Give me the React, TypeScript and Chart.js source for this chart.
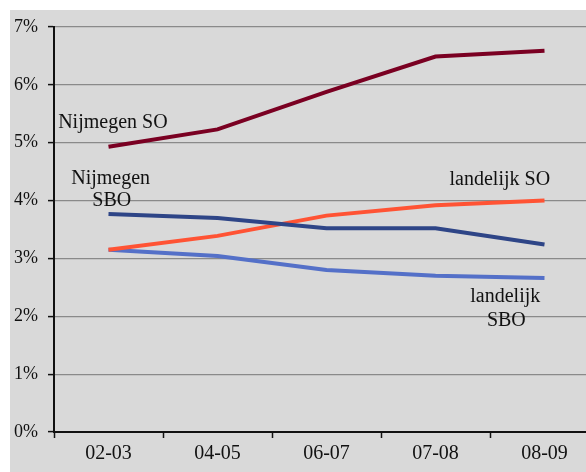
import React, { useEffect, useRef } from "react";
import { Chart, registerables } from "chart.js";

Chart.register(...registerables);

const categories = ["02-03", "04-05", "06-07", "07-08", "08-09"];
const nijmegenSO = [4.93, 5.23, 5.88, 6.49, 6.59];
const nijmegenSBO = [3.77, 3.70, 3.52, 3.52, 3.24];
const landelijkSO = [3.15, 3.39, 3.74, 3.92, 4.0];
const landelijkSBO = [3.15, 3.04, 2.8, 2.7, 2.66];
const yTicks = [0, 1, 2, 3, 4, 5, 6, 7];

// series labels, anchored in data coordinates (category index, value)
const seriesLabels = [
  { text: "Nijmegen SO", x: 0.04, y: 5.25 },
  { text: "Nijmegen", x: 0.02, y: 4.29 },
  { text: "SBO", x: 0.03, y: 3.91 },
  { text: "landelijk SO", x: 3.59, y: 4.27 },
  { text: "landelijk", x: 3.64, y: 2.25 },
  { text: "SBO", x: 3.65, y: 1.84 },
];

const FONT = "'Liberation Serif', 'Times New Roman', serif";

const bgPlugin = {
  id: "bg",
  beforeDraw(chart: any) {
    const { ctx, width, height } = chart;
    ctx.save();
    ctx.fillStyle = "#d9d9d9";
    ctx.fillRect(0, 0, width, height);
    ctx.restore();
  },
};

const labelPlugin = {
  id: "seriesLabels",
  afterDatasetsDraw(chart: any) {
    const { ctx, scales } = chart;
    const xs = scales.x;
    const ys = scales.y;
    ctx.save();
    ctx.font = `20px ${FONT}`;
    ctx.fillStyle = "#111";
    ctx.textAlign = "center";
    ctx.textBaseline = "alphabetic";
    seriesLabels.forEach((l) => {
      const x0 = xs.getPixelForValue(0);
      const x1 = xs.getPixelForValue(1);
      const px = x0 + (x1 - x0) * l.x;
      const py = ys.getPixelForValue(l.y);
      ctx.fillText(l.text, px, py);
    });
    ctx.restore();
  },
};

export default function App() {
  const ref = useRef<HTMLCanvasElement | null>(null);
  useEffect(() => {
    if (!ref.current) return;
    const chart = new Chart(ref.current, {
      type: "line",
      data: {
        labels: categories,
        datasets: [
          { label: "Nijmegen SO", data: nijmegenSO, borderColor: "#7a0022" },
          { label: "Nijmegen SBO", data: nijmegenSBO, borderColor: "#2e4587" },
          { label: "landelijk SO", data: landelijkSO, borderColor: "#ff5334" },
          { label: "landelijk SBO", data: landelijkSBO, borderColor: "#5470c8" },
        ].map((d) => ({
          ...d,
          borderWidth: 4,
          pointRadius: 0,
          tension: 0,
          fill: false,
        })),
      },
      options: {
        animation: false,
        responsive: false,
        maintainAspectRatio: false,
        layout: { padding: { left: 0, top: 17, right: 13, bottom: 0 } },
        plugins: {
          legend: { display: false },
          tooltip: { enabled: false },
          title: { display: false },
        },
        scales: {
          x: {
            type: "category",
            offset: true,
            grid: {
              offset: true,
              drawOnChartArea: false,
              drawTicks: true,
              tickLength: 6,
              tickColor: "#111",
              tickWidth: 1.5,
            },
            border: { display: true, color: "#111", width: 2 },
            ticks: {
              color: "#111",
              font: { family: FONT, size: 20 },
              padding: 4,
              maxRotation: 0,
              autoSkip: false,
            },
            afterFit(scale: any) {
              scale.height = 40;
            },
          },
          y: {
            min: 0,
            max: 7,
            afterBuildTicks(scale: any) {
              scale.ticks = yTicks.map((v) => ({ value: v }));
            },
            grid: {
              color: "#8a8a8a",
              lineWidth: 1.2,
              drawTicks: true,
              tickLength: 6,
              tickColor: "#111",
              tickWidth: 1.5,
            },
            border: { display: true, color: "#111", width: 2 },
            ticks: {
              color: "#111",
              font: { family: FONT, size: 18, lineHeight: 1 },
              padding: 10,
              callback: (v: any) => `${v}%`,
            },
            afterFit(scale: any) {
              scale.width = 44;
              scale.paddingTop = 0;
              scale.paddingBottom = 0;
            },
          },
        },
      },
      plugins: [bgPlugin, labelPlugin],
    } as any);
    return () => chart.destroy();
  }, []);

  return (
    <div
      style={{
        position: "fixed",
        left: 0,
        top: 0,
        width: 586,
        height: 472,
        overflow: "hidden",
        background: "#fff",
      }}
    >
      <div style={{ position: "absolute", left: 10, top: 10, width: 602, height: 462 }}>
        <canvas ref={ref} width={602} height={462} style={{ display: "block" }} />
      </div>
    </div>
  );
}
